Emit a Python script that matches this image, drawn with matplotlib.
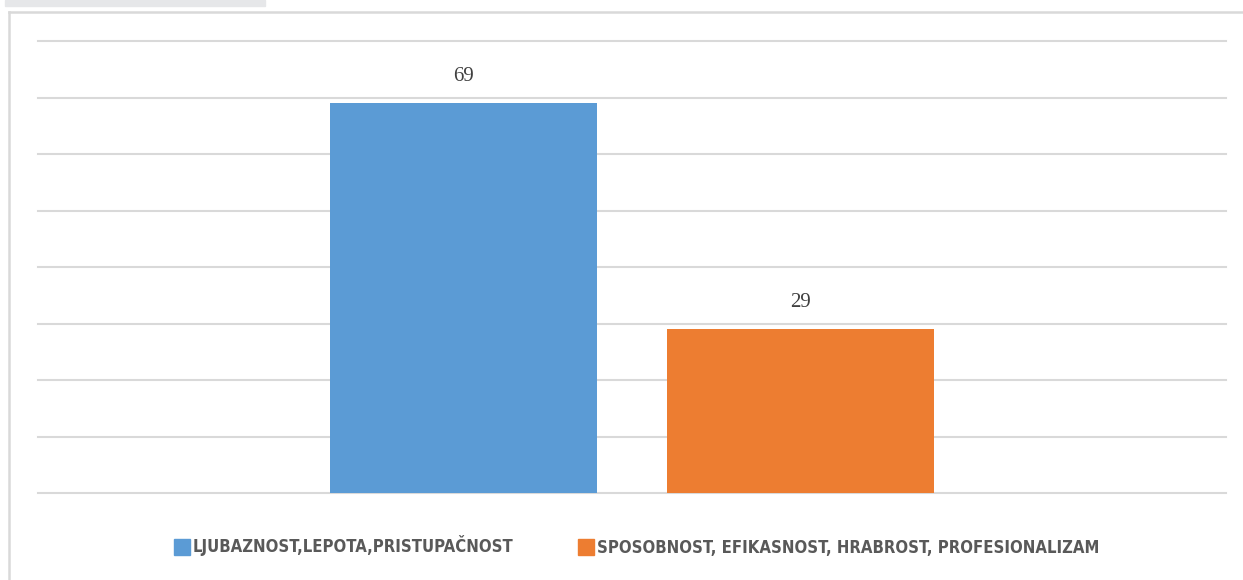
import matplotlib.pyplot as plt
from matplotlib.patches import Rectangle
from matplotlib.lines import Line2D

# data
categories = ['LJUBAZNOST,LEPOTA,PRISTUPAČNOST',
              'SPOSOBNOST, EFIKASNOST, HRABROST, PROFESIONALIZAM']
values = [69, 29]
colors = ['#5b9bd5', '#ed7d31']
ymax = 80
yticks = [0, 10, 20, 30, 40, 50, 60, 70, 80]

fig = plt.figure(figsize=(12.43, 5.8), dpi=100)
ax = fig.add_axes([38/1243, 1-493/580, (1226-38)/1243, (493-41)/580])

xpos = [0, 1]
bars = ax.bar(xpos, values, width=0.79, color=colors, zorder=3)
for b, v in zip(bars, values):
    ax.text(b.get_x() + b.get_width()/2, v + 3.0, str(v), ha='center', va='bottom',
            fontsize=15, color='#404040', family='Liberation Serif')

ax.set_xlim(-1.26, 2.26)
ax.set_ylim(0, ymax)
ax.set_yticks(yticks)
ax.set_xticks([])
ax.tick_params(left=False, labelleft=False)
ax.grid(axis='y', color='#d9d9d9', linewidth=1.5, zorder=0)
for gl in ax.get_ygridlines():
    gl.set_clip_on(False)
for s in ax.spines.values():
    s.set_visible(False)

# frame bits
fig.add_artist(Rectangle((5/1243, 1-6/580), 260/1243, 6/580, color='#e6e7e9',
                         transform=fig.transFigure))
fig.add_artist(Line2D([8.5/1243, 8.5/1243], [0, 1-11.5/580], color='#d9d9d9', lw=1.8))
fig.add_artist(Line2D([8.5/1243, 1], [1-11.5/580, 1-11.5/580], color='#d9d9d9', lw=1.8))

handles = [Line2D([], [], marker='s', ls='', color=c, markersize=11) for c in colors]
leg = fig.legend(handles, categories, loc='center', bbox_to_anchor=(638/1243, 1-546/580),
                 ncol=2, frameon=False, handlelength=0.7, handletextpad=0.3,
                 columnspacing=4.0,
                 prop={'family': ['Liberation Sans Narrow', 'DejaVu Sans'],
                       'weight': 'bold', 'size': 12, 'stretch': 'condensed'})
for t in leg.get_texts():
    t.set_color('#595959')

fig.savefig('out.png', dpi=100)
